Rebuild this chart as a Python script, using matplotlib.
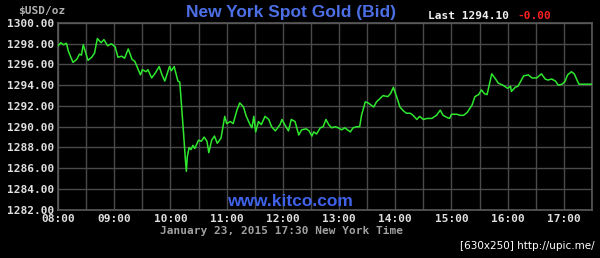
import matplotlib
matplotlib.use("Agg")

import matplotlib.pyplot as plt

# minutes after 08:00 New York time, and bid price in $USD/oz
minutes = [
    0, 3, 6, 9, 11, 16, 20, 23, 25, 27, 32, 36, 39, 42, 46, 49, 53, 57, 61, 64,
    68, 71, 75, 79, 82, 88, 90, 94, 96, 100, 104, 108, 111, 114, 119, 121, 124, 128, 130, 132,
    134, 136, 137, 138, 140, 142, 144, 146, 150, 153, 156, 159, 161, 164, 167, 170, 174, 178, 180, 184,
    187, 191, 194, 198, 201, 205, 207, 209, 211, 214, 217, 221, 225, 228, 232, 237, 239, 242, 246, 249,
    253, 257, 260, 265, 268, 271, 273, 276, 280, 283, 286, 289, 292, 296, 299, 303, 306, 312, 315, 319,
    322, 324, 328, 331, 337, 340, 344, 347, 352, 355, 358, 362, 365, 369, 372, 376, 379, 383, 386, 390,
    394, 399, 404, 408, 411, 415, 418, 420, 426, 429, 433, 437, 442, 445, 449, 452, 455, 458, 463, 467,
    470, 475, 480, 483, 484, 488, 491, 497, 502, 506, 511, 516, 520, 523, 527, 531, 534, 538, 541, 544,
    548, 551, 554, 556, 570,
]
prices = [
    1297.8, 1298.1, 1297.9, 1298.05, 1297.3, 1296.2, 1296.5, 1297.0, 1296.9, 1297.9,
    1296.4, 1296.7, 1297.1, 1298.5, 1298.1, 1298.4, 1297.8, 1298.0, 1297.7, 1296.7,
    1296.8, 1296.6, 1297.5, 1296.5, 1296.3, 1295.0, 1295.5, 1295.3, 1295.5, 1294.7,
    1295.2, 1295.8, 1295.0, 1294.4, 1295.8, 1295.4, 1295.8, 1294.4, 1294.3, 1291.9,
    1289.4, 1286.8, 1285.7, 1287.1, 1288.0, 1287.8, 1288.2, 1287.9, 1288.7, 1288.6,
    1289.0, 1288.6, 1287.5, 1288.7, 1289.1, 1288.4, 1288.9, 1291.0, 1290.3, 1290.5,
    1290.3, 1291.6, 1292.3, 1291.9, 1291.0, 1290.2, 1289.9, 1291.0, 1289.5, 1290.5,
    1290.2, 1291.0, 1290.7, 1290.0, 1289.6, 1290.2, 1290.7, 1290.2, 1289.6, 1290.7,
    1290.5, 1289.2, 1289.7, 1289.8, 1289.6, 1289.1, 1289.5, 1289.3, 1289.9, 1290.0,
    1290.7, 1290.2, 1289.9, 1290.0, 1289.9, 1289.7, 1289.9, 1289.5, 1289.9, 1290.0,
    1290.0, 1291.1, 1292.4, 1292.3, 1291.9, 1292.4, 1292.75, 1293.0, 1292.9, 1293.2,
    1293.8, 1292.75, 1291.9, 1291.5, 1291.3, 1291.3, 1291.1, 1290.7, 1291.0, 1290.7,
    1290.8, 1290.8, 1291.1, 1291.6, 1291.1, 1290.9, 1290.8, 1291.2, 1291.2, 1291.1,
    1291.1, 1291.4, 1292.1, 1292.9, 1293.1, 1293.55, 1293.2, 1293.1, 1295.1, 1294.6,
    1294.2, 1294.0, 1293.7, 1293.9, 1293.4, 1293.8, 1293.9, 1294.9, 1295.0, 1294.7,
    1294.7, 1295.1, 1294.6, 1294.5, 1294.6, 1294.4, 1294.0, 1294.1, 1294.35, 1295.0,
    1295.3, 1295.1, 1294.5, 1294.1, 1294.1,
]

hour_labels = ["08:00", "09:00", "10:00", "11:00", "12:00",
               "13:00", "14:00", "15:00", "16:00", "17:00"]
price_ticks = [1282, 1284, 1286, 1288, 1290, 1292, 1294, 1296, 1298, 1300]

title = "New York Spot Gold (Bid)"
last_price = "Last 1294.10"
change = "-0.00"
unit_label = "$USD/oz"
date_line = "January 23, 2015 17:30 New York Time"

W, H = 600, 258
MONO = "DejaVu Sans Mono"
grid_col = "#4a4a4a"
text_col = "#e0e0e0"

fig = plt.figure(figsize=(W / 100, H / 100), dpi=100, facecolor="black")
ax = fig.add_axes([58 / W, 1 - 209.7 / H, (592 - 58) / W, (209.7 - 23) / H])
ax.set_facecolor("black")

ax.plot(minutes, prices, color="#2ee82e", lw=1.1, zorder=3)

ax.set_xlim(0, 570)
ax.set_ylim(1282, 1300)

ax.set_xticks(range(0, 571, 30), minor=False)
ax.set_xticklabels([hour_labels[i // 2] if i % 2 == 0 else "" for i in range(20)])
ax.set_yticks(price_ticks)
ax.set_yticklabels([f"{p:.2f}" for p in price_ticks])
ax.tick_params(length=0, colors=text_col, labelsize=8, pad=3)
for lab in ax.get_xticklabels() + ax.get_yticklabels():
    lab.set_fontfamily(MONO)
    lab.set_fontweight("bold")

ax.grid(True, color=grid_col, lw=1)
for s in ax.spines.values():
    s.set_color("#5a5a5a")
    s.set_linewidth(1.2)

fig.text(18 / W, 1 - 11 / H, unit_label, color="#b0b0b0", fontsize=8,
         family=MONO, fontweight="bold", va="center", ha="left")
fig.text(291 / W, 1 - 12 / H, title, color="#4d6fe6", fontsize=12.5,
         family="Liberation Sans", fontweight="bold", va="center", ha="center")
fig.text(428 / W, 1 - 16 / H, last_price, color="#f0f0f0", fontsize=8,
         family=MONO, fontweight="bold", va="center", ha="left")
fig.text(517 / W, 1 - 16 / H, change, color="#ff2020", fontsize=8,
         family=MONO, fontweight="bold", va="center", ha="left")
fig.text(290 / W, 1 - 202 / H, "www.kitco.com", color="#3f62e8", fontsize=12.5,
         family="Liberation Sans", fontweight="bold", va="center", ha="center")
fig.text(281 / W, 1 - 231 / H, date_line, color="#a0a0a0", fontsize=8,
         family=MONO, fontweight="bold", va="center", ha="center")
fig.text(595 / W, 1 - 246 / H, "[630x250] http://upic.me/", color="white",
         fontsize=7.5, family="DejaVu Sans", va="center", ha="right")

fig.savefig("out.png", dpi=100, facecolor="black")
